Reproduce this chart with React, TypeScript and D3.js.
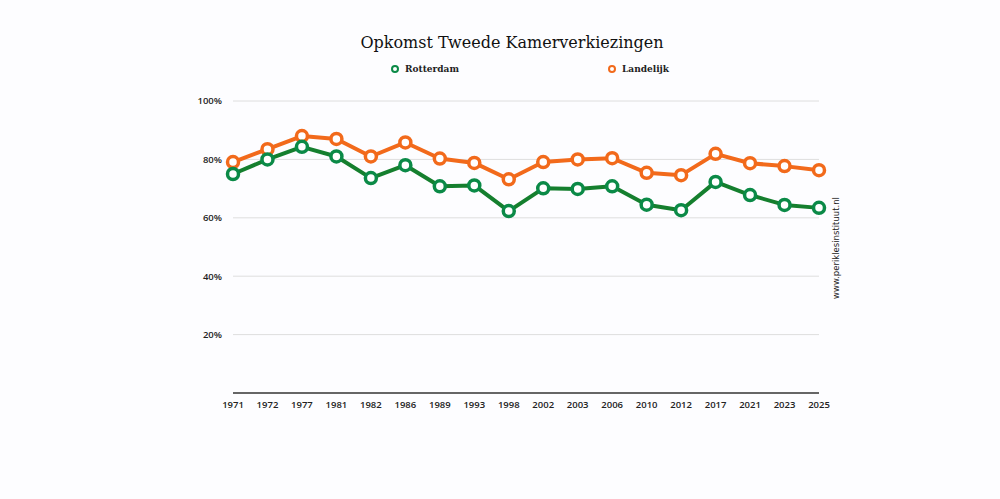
import { useEffect, useRef } from "react";
import * as d3 from "d3";

const years = ["1971", "1972", "1977", "1981", "1982", "1986", "1989", "1993", "1998", "2002", "2003", "2006", "2010", "2012", "2017", "2021", "2023", "2025"];
const rotterdam = [75, 80, 84.3, 81, 73.6, 78, 70.8, 71.1, 62.3, 70.1, 69.9, 70.8, 64.5, 62.6, 72.3, 67.8, 64.4, 63.4];
const landelijk = [79.1, 83.5, 88, 87, 81, 85.8, 80.3, 78.8, 73.2, 79.1, 80, 80.4, 75.4, 74.6, 81.9, 78.7, 77.7, 76.3];
const yTicks = [20, 40, 60, 80, 100];

const GREEN = "#157f2e";
const GREEN_RING = "#0b8a47";
const ORANGE = "#f26a1b";

export default function App() {
  const ref = useRef<SVGSVGElement>(null);

  useEffect(() => {
    if (!ref.current) return;
    const width = 1000;
    const height = 499;
    const svg = d3.select(ref.current);
    svg.selectAll("*").remove();

    svg.append("rect").attr("width", width).attr("height", height).attr("fill", "#fdfdff");

    const x = d3.scalePoint().domain(years).range([233, 819]);
    const y = d3.scaleLinear().domain([0, 100]).range([393, 101]);

    // gridlines
    svg
      .append("g")
      .selectAll("line")
      .data(yTicks)
      .join("line")
      .attr("x1", 233)
      .attr("x2", 819)
      .attr("y1", (d) => y(d))
      .attr("y2", (d) => y(d))
      .attr("stroke", "#dedede")
      .attr("stroke-width", 1);

    svg
      .append("g")
      .selectAll("text")
      .data(yTicks)
      .join("text")
      .attr("x", 222)
      .attr("y", (d) => y(d))
      .attr("dy", "0.35em")
      .attr("text-anchor", "end")
      .attr("font-family", "'Open Sans', sans-serif")
      .attr("font-size", 9.5)
      .attr("font-weight", 600)
      .attr("fill", "#222")
      .text((d) => `${d}%`);

    // x axis line
    svg
      .append("line")
      .attr("x1", 233)
      .attr("x2", 819)
      .attr("y1", y(0))
      .attr("y2", y(0))
      .attr("stroke", "#333")
      .attr("stroke-width", 1.5);

    svg
      .append("g")
      .selectAll("text")
      .data(years)
      .join("text")
      .attr("x", (d) => x(d) ?? 0)
      .attr("y", 408)
      .attr("text-anchor", "middle")
      .attr("font-family", "'Open Sans', sans-serif")
      .attr("font-size", 9.5)
      .attr("font-weight", 600)
      .attr("fill", "#222")
      .text((d) => d);

    const series = [
      { values: landelijk, line: ORANGE, ring: ORANGE },
      { values: rotterdam, line: GREEN, ring: GREEN_RING },
    ];

    const line = d3
      .line<number>()
      .x((_, i) => x(years[i]) ?? 0)
      .y((d) => y(d));

    series.forEach((s) => {
      svg
        .append("path")
        .attr("d", line(s.values))
        .attr("fill", "none")
        .attr("stroke", s.line)
        .attr("stroke-width", 4)
        .attr("stroke-linejoin", "round");
      svg
        .append("g")
        .selectAll("circle")
        .data(s.values)
        .join("circle")
        .attr("cx", (_, i) => x(years[i]) ?? 0)
        .attr("cy", (d) => y(d))
        .attr("r", 5.5)
        .attr("fill", "#fff")
        .attr("stroke", s.ring)
        .attr("stroke-width", 3.5);
    });

    // title
    svg
      .append("text")
      .attr("x", 512)
      .attr("y", 48)
      .attr("text-anchor", "middle")
      .attr("font-family", "'DejaVu Serif', serif")
      .attr("font-size", 16)
      .attr("fill", "#111")
      .text("Opkomst Tweede Kamerverkiezingen");

    // legend
    const legend = [
      { label: "Rotterdam", color: GREEN_RING, x: 395 },
      { label: "Landelijk", color: ORANGE, x: 612 },
    ];
    legend.forEach((l) => {
      svg
        .append("circle")
        .attr("cx", l.x)
        .attr("cy", 69)
        .attr("r", 3)
        .attr("fill", "#fff")
        .attr("stroke", l.color)
        .attr("stroke-width", 2);
      svg
        .append("text")
        .attr("x", l.x + 10)
        .attr("y", 69)
        .attr("dy", "0.35em")
        .attr("font-family", "'DejaVu Serif', serif")
        .attr("font-size", 9)
        .attr("font-weight", 600)
        .attr("fill", "#222")
        .text(l.label);
    });

    // watermark
    svg
      .append("text")
      .attr("transform", "translate(839,248) rotate(-90)")
      .attr("text-anchor", "middle")
      .attr("font-family", "'DejaVu Sans', sans-serif")
      .attr("font-size", 8.5)
      .attr("fill", "#222")
      .text("www.periklesinstituut.nl");
  }, []);

  return (
    <div style={{ position: "fixed", left: 0, top: 0 }}>
      <svg ref={ref} width={1000} height={499} style={{ display: "block" }} />
    </div>
  );
}
